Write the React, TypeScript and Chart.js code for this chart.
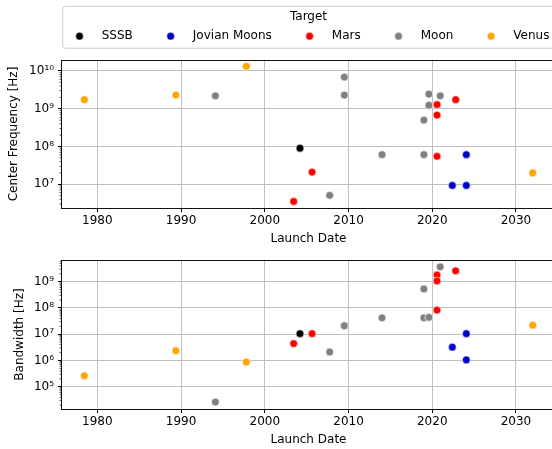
import React, { useEffect, useRef } from 'react';
import { Chart, registerables } from 'chart.js';

Chart.register(...registerables);

// ---- data ----
const targets = ['SSSB', 'Jovian Moons', 'Mars', 'Moon', 'Venus'];
const targetColors = ['#000000', '#0000cc', '#ff0000', '#808080', '#ffa500'];

const sssbYears = [2004.2];
const sssbFreq = [9.0e7];
const sssbBw = [1.05e7];

const jovianYears = [2024.07, 2022.4, 2024.07];
const jovianFreq = [6.1e7, 9.3e6, 9.3e6];
const jovianBw = [1.05e7, 3.2e6, 1.05e6];

const marsYears = [2003.45, 2005.65, 2020.57, 2020.57, 2020.57, 2022.8];
const marsFreq = [3.5e6, 2.1e7, 1.29e9, 6.8e8, 5.5e7, 1.74e9];
const marsBw = [4.4e6, 1.05e7, 1.8e9, 1.07e9, 8.3e7, 2.6e9];

const moonYears = [1994.1, 2007.75, 2009.5, 2009.5, 2014.0, 2019.0, 2019.0, 2019.6, 2019.6, 2020.95];
const moonFreq = [2.2e9, 5.1e6, 6.9e9, 2.3e9, 6.1e7, 5.0e8, 6.1e7, 2.45e9, 1.24e9, 2.2e9];
const moonBw = [2.6e4, 2.1e6, 2.1e7, 2.1e7, 4.2e7, 5.3e8, 4.2e7, 4.4e7, 4.4e7, 3.7e9];

const venusYears = [1978.45, 1989.38, 1997.8, 2032.0];
const venusFreq = [1.74e9, 2.3e9, 1.33e10, 2.0e7];
const venusBw = [2.6e5, 2.35e6, 8.7e5, 2.2e7];

const xTickValues = [1980, 1990, 2000, 2010, 2020, 2030];
const xTickLabels = ['1980', '1990', '2000', '2010', '2020', '2030'];

const freqTickValues = [1e7, 1e8, 1e9, 1e10];
const freqTickLabels = ['10\u2077', '10\u2078', '10\u2079', '10\u00b9\u2070'];

const bwTickValues = [1e5, 1e6, 1e7, 1e8, 1e9];
const bwTickLabels = ['10\u2075', '10\u2076', '10\u2077', '10\u2078', '10\u2079'];

const seriesYears = [sssbYears, jovianYears, marsYears, moonYears, venusYears];
const seriesFreq = [sssbFreq, jovianFreq, marsFreq, moonFreq, venusFreq];
const seriesBw = [sssbBw, jovianBw, marsBw, moonBw, venusBw];

const FONT = '"DejaVu Sans", sans-serif';
const CANVAS_W = 555;

// ---- plugins ----
const framePlugin = {
  id: 'frame',
  afterDraw(chart: any) {
    const { ctx, chartArea: a } = chart;
    ctx.save();
    ctx.strokeStyle = '#111';
    ctx.lineWidth = 1;
    ctx.strokeRect(Math.round(a.left) - 0.5, Math.round(a.top) + 0.5, a.right - a.left + 1, Math.round(a.bottom) - Math.round(a.top));
    // minor ticks on log y-axis
    const ys = chart.scales.y;
    const lo = Math.floor(Math.log10(ys.min));
    const hi = Math.ceil(Math.log10(ys.max));
    ctx.lineWidth = 0.7;
    ctx.strokeStyle = '#000';
    for (let n = lo; n <= hi; n++) {
      for (let k = 2; k <= 9; k++) {
        const v = k * Math.pow(10, n);
        if (v < ys.min || v > ys.max) continue;
        const py = ys.getPixelForValue(v);
        ctx.beginPath();
        ctx.moveTo(a.left - 2.4, py);
        ctx.lineTo(a.left, py);
        ctx.stroke();
      }
    }
    ctx.restore();
  },
};

const legendPlugin = {
  id: 'mplLegend',
  afterDraw(chart: any, _args: any, opts: any) {
    if (!opts || !opts.show) return;
    const { ctx, chartArea: a } = chart;
    const fs = 12;
    ctx.save();
    ctx.font = `${fs}px ${FONT}`;
    const ds = chart.data.datasets;
    const handle = 2 * fs;
    const textPad = 0.85 * fs;
    const colSpace = 2.15 * fs;
    const border = 0.4 * fs;
    const widths = ds.map((d: any) => ctx.measureText(d.label).width);
    let total = 0;
    widths.forEach((w: number, i: number) => {
      total += handle + textPad + w + (i < widths.length - 1 ? colSpace : 0);
    });
    const boxW = total + 2 * border;
    const cx = (a.left + a.right) / 2;
    const left = cx - boxW / 2;
    const top = 6.3;
    const bottom = 48.2;
    const r = 2.5;
    ctx.beginPath();
    ctx.moveTo(left + r, top);
    ctx.lineTo(left + boxW - r, top);
    ctx.arcTo(left + boxW, top, left + boxW, top + r, r);
    ctx.lineTo(left + boxW, bottom - r);
    ctx.arcTo(left + boxW, bottom, left + boxW - r, bottom, r);
    ctx.lineTo(left + r, bottom);
    ctx.arcTo(left, bottom, left, bottom - r, r);
    ctx.lineTo(left, top + r);
    ctx.arcTo(left, top, left + r, top, r);
    ctx.closePath();
    ctx.fillStyle = 'rgba(255,255,255,0.8)';
    ctx.fill();
    ctx.strokeStyle = '#cccccc';
    ctx.lineWidth = 1;
    ctx.stroke();

    ctx.fillStyle = '#000';
    ctx.textBaseline = 'middle';
    ctx.textAlign = 'center';
    ctx.fillText('Target', cx, 16.9);

    let x = left + border;
    const iy = 36.2;
    ctx.textAlign = 'left';
    ds.forEach((d: any, i: number) => {
      ctx.beginPath();
      ctx.arc(x + handle / 2, iy, 3.9, 0, Math.PI * 2);
      ctx.fillStyle = d.backgroundColor;
      ctx.fill();
      ctx.lineWidth = 0.6;
      ctx.strokeStyle = '#fff';
      ctx.stroke();
      ctx.fillStyle = '#000';
      ctx.fillText(d.label, x + handle + textPad, iy);
      x += handle + textPad + widths[i] + colSpace;
    });
    ctx.restore();
  },
};

function buildConfig(
  values: number[][],
  yMin: number,
  yMax: number,
  yTicks: number[],
  yLabels: string[],
  yTitle: string,
  yTitlePad: number,
  padTop: number,
  xAxisHeight: number,
  xTitlePad: number,
  showLegend: boolean
): any {
  return {
    type: 'scatter',
    data: {
      datasets: targets.map((t, i) => ({
        label: t,
        data: seriesYears[i].map((x, j) => ({ x, y: values[i][j] })),
        backgroundColor: targetColors[i],
        borderColor: '#ffffff',
        borderWidth: 0.6,
        pointRadius: 3.9,
        pointHoverRadius: 3.9,
      })),
    },
    options: {
      animation: false,
      responsive: false,
      devicePixelRatio: 1,
      events: [],
      layout: { autoPadding: false, padding: { top: padTop, left: 0, right: 0, bottom: 0 } },
      plugins: {
        legend: { display: false },
        tooltip: { enabled: false },
        mplLegend: { show: showLegend },
      },
      scales: {
        x: {
          type: 'linear',
          min: 1975.78,
          max: 2034.66,
          afterBuildTicks: (s: any) => {
            s.ticks = xTickValues.map((v) => ({ value: v }));
          },
          afterFit: (s: any) => {
            s.height = xAxisHeight;
            s.paddingLeft = 0;
            s.paddingRight = 0;
          },
          ticks: {
            autoSkip: false,
            maxRotation: 0,
            padding: 2,
            color: '#000',
            font: { family: FONT, size: 12 },
            callback: (v: number) => {
              const k = xTickValues.indexOf(v);
              return k >= 0 ? xTickLabels[k] : '';
            },
          },
          grid: { color: '#c0c0c0', lineWidth: 1, tickLength: 4, tickColor: '#000', tickWidth: 1 },
          border: { display: false },
          title: {
            display: true,
            text: 'Launch Date',
            color: '#000',
            font: { family: FONT, size: 12 },
            padding: { top: 0, bottom: xTitlePad },
          },
        },
        y: {
          type: 'logarithmic',
          min: yMin,
          max: yMax,
          afterBuildTicks: (s: any) => {
            s.ticks = yTicks.map((v) => ({ value: v }));
          },
          afterFit: (s: any) => {
            s.width = 62;
            s.paddingTop = 0;
            s.paddingBottom = 0;
          },
          ticks: {
            autoSkip: false,
            padding: 4,
            color: '#000',
            font: { family: FONT, size: 12 },
            callback: (v: number) => {
              const k = yTicks.findIndex((t) => Math.abs(t - v) / t < 1e-6);
              return k >= 0 ? yLabels[k] : '';
            },
          },
          grid: { color: '#c0c0c0', lineWidth: 1, tickLength: 4, tickColor: '#000', tickWidth: 1 },
          border: { display: false },
          title: {
            display: true,
            text: yTitle,
            color: '#000',
            font: { family: FONT, size: 12 },
            padding: { top: yTitlePad, bottom: 0 },
          },
        },
      },
    },
    plugins: [framePlugin, legendPlugin],
  };
}

export default function App() {
  const topRef = useRef<HTMLCanvasElement>(null);
  const botRef = useRef<HTMLCanvasElement>(null);

  useEffect(() => {
    const c1 = new Chart(
      topRef.current as HTMLCanvasElement,
      buildConfig(seriesFreq, Math.pow(10, 6.372), Math.pow(10, 10.291), freqTickValues, freqTickLabels,
        'Center Frequency [Hz]', 6.5, 60, 42, 4.3, true)
    );
    const c2 = new Chart(
      botRef.current as HTMLCanvasElement,
      buildConfig(seriesBw, Math.pow(10, 4.15), Math.pow(10, 9.827), bwTickValues, bwTickLabels,
        'Bandwidth [Hz]', 12.8, 10, 40, 1.8, false)
    );
    return () => {
      c1.destroy();
      c2.destroy();
    };
  }, []);

  return (
    <div style={{ position: 'fixed', left: 0, top: 0, width: 552, height: 449, overflow: 'hidden', background: '#fff' }}>
      <canvas
        ref={topRef}
        width={CANVAS_W}
        height={250}
        style={{ position: 'absolute', left: 0, top: 0, width: CANVAS_W, height: 250 }}
      />
      <canvas
        ref={botRef}
        width={CANVAS_W}
        height={199}
        style={{ position: 'absolute', left: 0, top: 250, width: CANVAS_W, height: 199 }}
      />
    </div>
  );
}
